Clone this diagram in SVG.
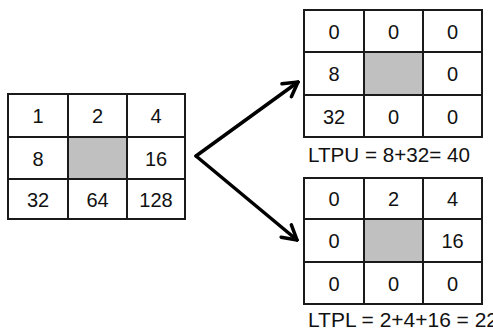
<svg xmlns="http://www.w3.org/2000/svg" width="493" height="330" viewBox="0 0 493 330">
<defs>
<style>
.g line,.g rect.b{stroke:#1a1a1a;stroke-width:2;fill:none}
.sh{fill:#c0c0c0}
.t{font-family:"Liberation Sans",Arial,sans-serif;font-size:20px;fill:#111;text-anchor:middle}
.lab{font-family:"Liberation Sans",Arial,sans-serif;font-size:20px;fill:#111}
.arr{stroke:#000;stroke-width:3.5;fill:none;stroke-linecap:round;stroke-linejoin:miter}
</style>
<marker id="ah" markerUnits="userSpaceOnUse" viewBox="0 0 20 20" refX="18" refY="10" markerWidth="20" markerHeight="20" orient="auto">
<path d="M4,2 L18,10 L4,18" fill="none" stroke="#000" stroke-width="3.5" stroke-linecap="round" stroke-linejoin="miter"/>
</marker>
</defs>
<rect width="493" height="330" fill="#fff"/>
<g id="grid-main" class="g">
<rect x="68" y="137" width="59" height="42" class="sh"/>
<rect class="b" x="8" y="94" width="177" height="125"/>
<line x1="68" y1="94" x2="68" y2="219"/><line x1="127" y1="94" x2="127" y2="219"/>
<line x1="8" y1="137" x2="185" y2="137"/><line x1="8" y1="179" x2="185" y2="179"/>
<text class="t" x="38" y="123">1</text><text class="t" x="97.5" y="123">2</text><text class="t" x="156" y="123">4</text>
<text class="t" x="38" y="165.5">8</text><text class="t" x="156" y="165.5">16</text>
<text class="t" x="38" y="206.5">32</text><text class="t" x="97.5" y="206.5">64</text><text class="t" x="156" y="206.5">128</text>
</g>
<g id="grid-upper" class="g">
<rect x="364" y="52" width="59" height="43" class="sh"/>
<rect class="b" x="304" y="10" width="178" height="127"/>
<line x1="364" y1="10" x2="364" y2="137"/><line x1="423" y1="10" x2="423" y2="137"/>
<line x1="304" y1="52" x2="482" y2="52"/><line x1="304" y1="95" x2="482" y2="95"/>
<text class="t" x="334" y="38.5">0</text><text class="t" x="393.5" y="38.5">0</text><text class="t" x="452.5" y="38.5">0</text>
<text class="t" x="334" y="81">8</text><text class="t" x="452.5" y="81">0</text>
<text class="t" x="334" y="123.5">32</text><text class="t" x="393.5" y="123.5">0</text><text class="t" x="452.5" y="123.5">0</text>
<text class="lab" x="308" y="162" textLength="162" lengthAdjust="spacingAndGlyphs">LTPU = 8+32= 40</text>
</g>
<g id="grid-lower" class="g">
<rect x="364" y="219" width="59" height="43" class="sh"/>
<rect class="b" x="304" y="178" width="178" height="126"/>
<line x1="364" y1="178" x2="364" y2="304"/><line x1="423" y1="178" x2="423" y2="304"/>
<line x1="304" y1="219" x2="482" y2="219"/><line x1="304" y1="262" x2="482" y2="262"/>
<text class="t" x="334" y="206">0</text><text class="t" x="393.5" y="206">2</text><text class="t" x="452.5" y="206">4</text>
<text class="t" x="334" y="248">0</text><text class="t" x="452.5" y="248">16</text>
<text class="t" x="334" y="290.5">0</text><text class="t" x="393.5" y="290.5">0</text><text class="t" x="452.5" y="290.5">0</text>
<text class="lab" x="308" y="327" textLength="190" lengthAdjust="spacingAndGlyphs">LTPL = 2+4+16 = 22</text>
</g>
<g id="connectors">
<path class="arr" d="M196,156 L298,82" marker-end="url(#ah)"/>
<path class="arr" d="M196,156 L297,240" marker-end="url(#ah)"/>
</g>
</svg>
